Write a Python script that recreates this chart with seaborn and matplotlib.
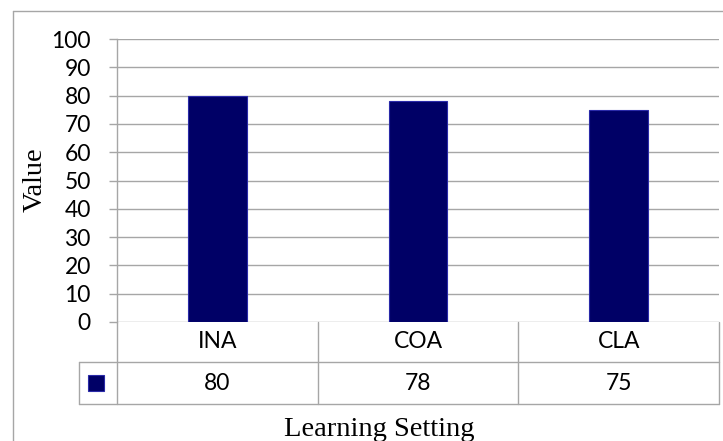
import matplotlib
matplotlib.use("Agg")
import matplotlib.pyplot as plt
import seaborn as sns
import pandas as pd
from matplotlib.lines import Line2D
from matplotlib.transforms import blended_transform_factory

# Data
categories = ["INA", "COA", "CLA"]
values = [80, 78, 75]
yticks = list(range(0, 101, 10))

sns.set_theme(style="white")
plt.rcParams["font.family"] = ["Lato", "DejaVu Sans"]

GRAY = "#a6a6a6"
BAR = "#000066"
BAR_EDGE = "#2a2aa8"

W, H = 723, 441
fig = plt.figure(figsize=(W / 100, H / 100), dpi=100)
fig.patch.set_facecolor("white")

# Plot area in pixel terms
x0, x1, y_top, y_bot = 117, 719, 39, 322
ax = fig.add_axes([x0 / W, 1 - y_bot / H, (x1 - x0) / W, (y_bot - y_top) / H])

df = pd.DataFrame({"setting": categories, "value": values})
sns.barplot(data=df, x="setting", y="value", ax=ax, color=BAR, saturation=1,
            width=0.294, edgecolor=BAR_EDGE, linewidth=0.8, zorder=3)

ax.set_xlim(-0.5, len(categories) - 0.5)
ax.set_ylim(0, 100)
ax.set_yticks(yticks)
ax.set_xlabel("")
ax.set_ylabel("")
ax.yaxis.grid(True, color=GRAY, linewidth=1)
ax.xaxis.grid(False)
ax.set_axisbelow(True)
for side in ("top", "right", "bottom"):
    ax.spines[side].set_visible(False)
ax.spines["left"].set_color(GRAY)
ax.spines["left"].set_linewidth(1)
ax.tick_params(axis="y", left=True, length=5.8, width=1, color=GRAY,
               pad=13, labelsize=16.5, labelcolor="black")
ax.tick_params(axis="x", bottom=False, labelbottom=False)

# Data table beneath the plot
ah = y_bot - y_top
aw = x1 - x0
row1 = -(362 - y_bot) / ah
row2 = -(404 - y_bot) / ah
leg_left = -(x0 - 79) / aw
line_kw = dict(color=GRAY, linewidth=1, transform=ax.transAxes,
               clip_on=False, scalex=False, scaley=False)
ax.plot([leg_left, 1], [row1, row1], **line_kw)
ax.plot([leg_left, 1], [row2, row2], **line_kw)
ax.plot([leg_left, leg_left], [row1, row2], **line_kw)
ax.plot([0, 0], [0, row2], **line_kw)
n = len(categories)
for k in range(1, n + 1):
    xb = k / n
    ax.plot([xb, xb], [0, row2], **line_kw)

tr = blended_transform_factory(ax.transData, ax.transAxes)
hdr_y = -(342 - y_bot) / ah
val_y = -(383 - y_bot) / ah
for i, (cat, val) in enumerate(zip(categories, values)):
    ax.text(i, hdr_y, cat, transform=tr, ha="center", va="center",
            fontsize=16.5, color="black")
    ax.text(i, val_y, f"{val}", transform=tr, ha="center", va="center",
            fontsize=16.5, color="black")

# Legend key in the table
key_x = -(x0 - 96) / aw
ax.plot([key_x], [val_y], marker="s", markersize=11.5, markerfacecolor=BAR,
        markeredgecolor=BAR_EDGE, markeredgewidth=0.8, linestyle="none",
        transform=ax.transAxes, clip_on=False, scalex=False, scaley=False)

# Axis titles
fig.text(35 / W, 1 - 180 / H, "Value", rotation=90, ha="center", va="center",
         family="Liberation Serif", fontsize=20.5, color="black")
fig.text(379 / W, 1 - 436 / H, "Learning Setting", ha="center", va="baseline",
         family="Liberation Serif", fontsize=20.5, color="black")

# Chart frame
fig.add_artist(Line2D([13 / W, 13 / W], [0, 1 - 11 / H], transform=fig.transFigure,
                      color=GRAY, linewidth=1))
fig.add_artist(Line2D([13 / W, 1], [1 - 11 / H, 1 - 11 / H], transform=fig.transFigure,
                      color=GRAY, linewidth=1))

fig.savefig("out.png", dpi=100)
